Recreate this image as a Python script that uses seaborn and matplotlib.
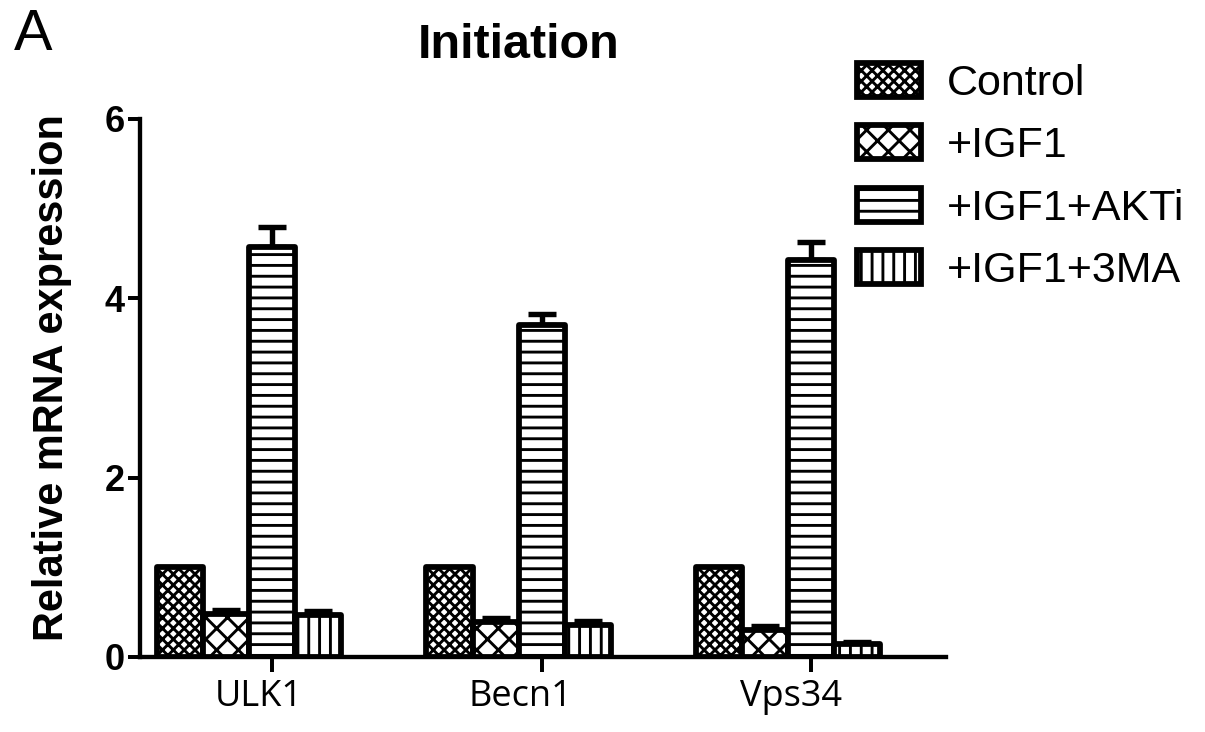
import numpy as np
import pandas as pd
import matplotlib
matplotlib.use("Agg")
import matplotlib.pyplot as plt
import matplotlib.patches as mpatches
import matplotlib.transforms as mtransforms
import seaborn as sns

genes = ["ULK1", "Becn1", "Vps34"]
groups = ["Control", "+IGF1", "+IGF1+AKTi", "+IGF1+3MA"]
control = [1.00, 1.00, 1.00]
igf1 = [0.48, 0.39, 0.30]
igf1_akti = [4.57, 3.70, 4.43]
igf1_3ma = [0.47, 0.36, 0.14]
control_err = [0.0, 0.0, 0.0]
igf1_err = [0.04, 0.04, 0.05]
igf1_akti_err = [0.22, 0.12, 0.20]
igf1_3ma_err = [0.04, 0.04, 0.03]
yticks = [0, 2, 4, 6]

means = [control, igf1, igf1_akti, igf1_3ma]
errs = [control_err, igf1_err, igf1_akti_err, igf1_3ma_err]
hatches = ["xxxx", "xx", "--", "||"]

rows = []
for g, vals in zip(groups, means):
    for gene, v in zip(genes, vals):
        rows.append({"Gene": gene, "Group": g, "Value": v})
df = pd.DataFrame(rows)

sns.set_theme(style="ticks")
plt.rcParams["font.family"] = ["Liberation Sans", "DejaVu Sans"]
plt.rcParams["hatch.linewidth"] = 1.6
plt.rcParams["text.color"] = "black"
plt.rcParams["axes.labelcolor"] = "black"
plt.rcParams["xtick.color"] = "black"
plt.rcParams["ytick.color"] = "black"

DPI = 130
fig = plt.figure(figsize=(1205 / DPI, 732 / DPI), dpi=DPI)
ax = fig.add_axes([140 / 1205, 75 / 732, 806 / 1205, 538 / 732])

bar_w = 0.684
sns.barplot(data=df, x="Gene", y="Value", hue="Group", order=genes,
            hue_order=groups, palette=["white"] * 4, edgecolor="black",
            linewidth=3.2, width=bar_w, gap=0, errorbar=None, legend=False,
            ax=ax, zorder=2)

for cont, h, er in zip(ax.containers, hatches, errs):
    for p, e in zip(cont.patches, er):
        p.set_hatch(h)
        p.set_joinstyle("round")
        if e > 0:
            xc = p.get_x() + p.get_width() / 2
            top = p.get_height()
            ax.errorbar([xc], [top], yerr=[[0], [e]], fmt="none",
                        ecolor="black", elinewidth=3, capsize=7.5,
                        capthick=3, zorder=1)

# ticks sit under the third bar of each group
tick_off = bar_w / 8
ax.set_xticks([i + tick_off for i in range(len(genes))])
ax.set_xticklabels(genes, fontsize=20, family=["Open Sans", "DejaVu Sans"])
ax.set_xlim(tick_off - 0.49, 2 + tick_off + 0.50)
ax.set_ylim(0, 6)
ax.set_yticks(yticks)
ax.set_yticklabels([str(t) for t in yticks], fontsize=20, fontweight="bold")
ax.tick_params(axis="x", length=8.3, width=2.2, pad=4, color="black")
ax.tick_params(axis="y", length=6.6, width=2.2, pad=2, color="black")

# labels sit slightly left of their ticks, as in the original figure
shift = mtransforms.ScaledTranslation(31 / DPI, 0, fig.dpi_scale_trans)
for lab in ax.get_xticklabels():
    lab.set_horizontalalignment("right")
    lab.set_transform(lab.get_transform() + shift)

for s in ["left", "bottom"]:
    ax.spines[s].set_linewidth(2.4)
    ax.spines[s].set_color("black")
    ax.spines[s].set_zorder(3)
for s in ["top", "right"]:
    ax.spines[s].set_visible(False)

ax.set_xlabel("")
ax.set_ylabel("Relative mRNA expression", fontsize=23, fontweight="bold")
ax.yaxis.set_label_coords(-0.084, 0.52)
ax.set_title("Initiation", fontsize=26.9, fontweight="bold", x=0.47, pad=34)

fig.text(14 / 1205, 1 - 35 / 732, "A", fontsize=32, ha="left", va="center")

handles = [mpatches.Patch(facecolor="white", edgecolor="black", hatch=h,
                          linewidth=3.2, joinstyle="round") for h in hatches]
fig.legend(handles, groups, loc="upper left",
           bbox_to_anchor=(857 / 1205, 1 - 63 / 732), frameon=False,
           fontsize=23.8, handlelength=1.5, handleheight=0.84,
           handletextpad=0.6, labelspacing=0.5, borderpad=0,
           borderaxespad=0)

fig.savefig("out.png", dpi=DPI)
